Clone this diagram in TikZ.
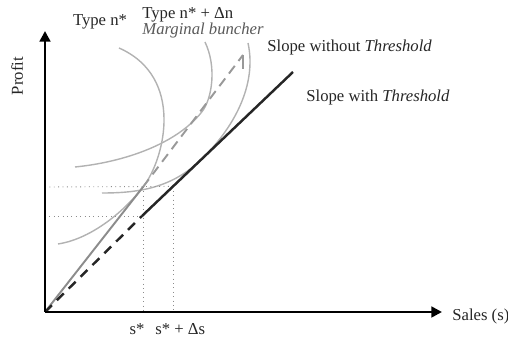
\documentclass[tikz,border=0pt]{standalone}
\usepackage{fontspec}
\setmainfont{Liberation Serif}
\usetikzlibrary{arrows.meta}

\begin{document}
\begin{tikzpicture}[x=0.02cm, y=0.02cm, >={Triangle[length=6pt,width=6pt]},
    lbl/.style={inner sep=0pt, font=\fontsize{9.5}{11}\selectfont, text=black!85},
    curva/.style={black!30, line width=0.8pt},
    guida/.style={black!45, dotted, line width=0.5pt}]
    \useasboundingbox (-45,-26) rectangle (463,312);

    % Punti
    \coordinate (O) at (0,0);
    \coordinate (ytop) at (0,281);
    \coordinate (xend) at (397,0);
    \coordinate (star) at (98,125);
    \coordinate (kink) at (97,96);
    \coordinate (ds) at (128,125.6);
    \coordinate (blackend) at (248,240);
    \coordinate (grayend) at (198,257);
    \coordinate (barb) at (198,243);
    \coordinate (sx) at (98,0);
    \coordinate (dsx) at (128,0);
    \coordinate (yl) at (0,125);
    \coordinate (yk) at (0,96);
    \coordinate (t2) at (157,200.3);
    \coordinate (t3) at (155,151.3);

    % Curve
    \draw[curva] (74,264) .. controls (140,235) and (120,153) .. (star)
                 .. controls (73,93) and (40,72) .. (13,68);
    \draw[curva] (160,270) .. controls (172,245) and (167,213) .. (t2)
                 .. controls (132,168.4) and (80,150) .. (30,145);
    \draw[curva] (203,269) .. controls (212,228) and (190,184.7) .. (t3)
                 .. controls (125,122.7) and (90,119) .. (57,119);

    % Linee guida
    \draw[guida] (yl) -- (ds);
    \draw[guida] (yk) -- (kink);
    \draw[guida] (star) -- (sx);
    \draw[guida] (ds) -- (dsx);

    % Pendenze
    \draw[black!45, line width=1.1pt] (O) -- (star);
    \draw[black!40, line width=1.1pt, dash pattern=on 5.5pt off 3.5pt] (star) -- (grayend);
    \draw[black!40, line width=1.1pt] (grayend) -- (barb);
    \draw[black!85, line width=1.4pt, dash pattern=on 5.5pt off 4pt] (O) -- (kink);
    \draw[black!85, line width=1.4pt] (kink) -- (blackend);

    % Assi
    \draw[->, line width=1.7pt] (O) -- (ytop);
    \draw[->, line width=1.7pt] (O) -- (xend);

    % Etichette
    \node[lbl, rotate=90] (profit) at (-28,236) {Profit};
    \node[lbl, anchor=west] (sales) at (407,-4) {Sales (s)};
    \node[lbl] (sstar) at (92,-17) {s*};
    \node[lbl, anchor=west] (sdelta) at (110,-17) {s* + Δs};
    \node[lbl] (typen) at (55,290) {Type n*};
    \node[lbl, anchor=west] (typedn) at (97,297) {Type n* + Δn};
    \node[lbl, anchor=west, text=black!65] (bunch) at (97,282) {\itshape Marginal buncher};
    \node[lbl, anchor=west] (nothr) at (222,265) {Slope without \textit{Threshold}};
    \node[lbl, anchor=west] (withthr) at (261,215) {Slope with \textit{Threshold}};
\end{tikzpicture}
\end{document}
